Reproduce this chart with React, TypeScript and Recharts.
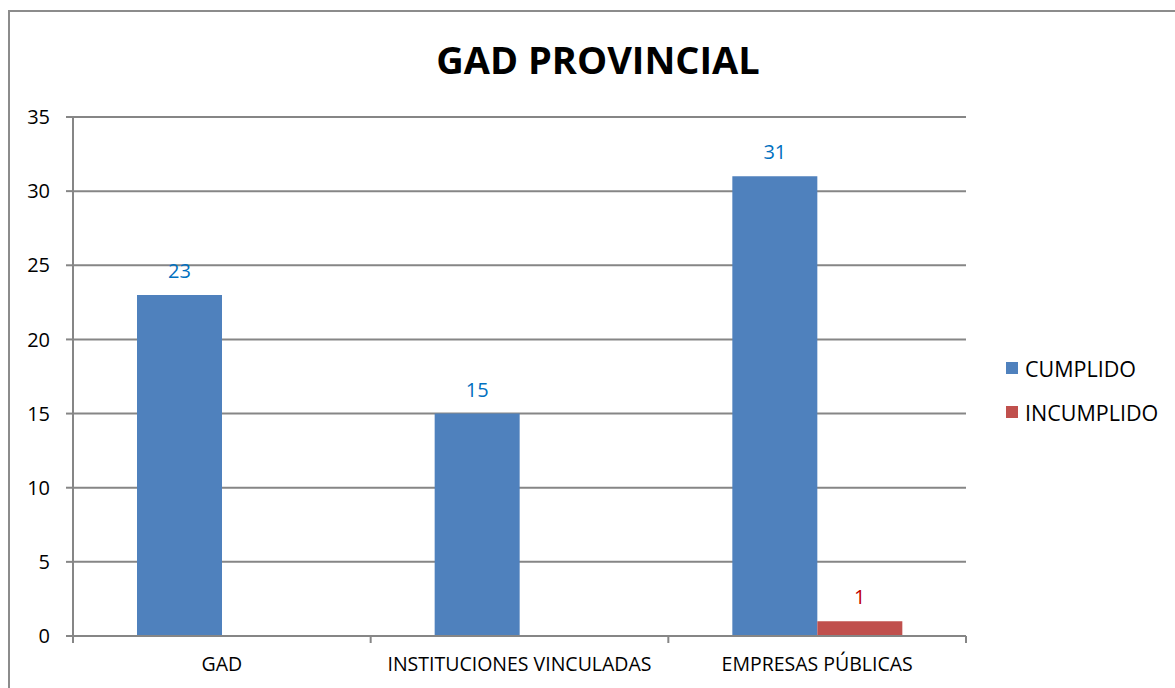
import React from 'react'
import { BarChart, Bar, XAxis, YAxis, CartesianGrid, Legend, LabelList } from 'recharts'

const categories = ['GAD', 'INSTITUCIONES VINCULADAS', 'EMPRESAS PÚBLICAS']
const cumplido = [23, 15, 31]
const incumplido = [0, 0, 1]
const yTicks = [0, 5, 10, 15, 20, 25, 30, 35]

const data = categories.map((name, i) => ({
  name,
  cumplido: cumplido[i],
  incumplido: incumplido[i],
}))

const FONT = '"Open Sans", "Noto Sans", sans-serif'
const W = 1175
const H = 688
const M = { top: 117, right: 209, left: 0, bottom: 12 }
const Y_W = 73
const BAND = (W - M.right - Y_W) / categories.length

const series = [
  { key: 'cumplido', label: 'CUMPLIDO', color: '#4F81BD', text: '#0070C0' },
  { key: 'incumplido', label: 'INCUMPLIDO', color: '#C0504D', text: '#C00000' },
]

// category label in the middle, tick marks on the band edges
function XTick(props: any) {
  const { x, y, payload, index } = props
  const left = x - BAND / 2
  return (
    <g>
      <line x1={left} x2={left} y1={y - 8} y2={y - 1} stroke="#868686" strokeWidth={2} />
      {index === categories.length - 1 && (
        <line x1={left + BAND} x2={left + BAND} y1={y - 8} y2={y - 1} stroke="#868686" strokeWidth={2} />
      )}
      <text x={x} y={y + 27} textAnchor="middle" fontSize={19.5} fontFamily={FONT} fill="#000">
        {payload.value}
      </text>
    </g>
  )
}

function LegendBox() {
  return (
    <div style={{ fontFamily: FONT, fontSize: 21.5, color: '#000' }}>
      {series.map((s) => (
        <div key={s.key} style={{ display: 'flex', alignItems: 'center', height: 44 }}>
          <span style={{ width: 12, height: 12, background: s.color, marginRight: 7 }} />
          {s.label}
        </div>
      ))}
    </div>
  )
}

export default function App() {
  return (
    <div style={{ position: 'absolute', left: 0, top: 0, width: W, height: H, overflow: 'hidden', background: '#fff' }}>
      <div
        style={{
          position: 'absolute', left: 8, top: 10, width: W + 20, height: H + 20,
          border: '2px solid #8c8c8c', boxSizing: 'border-box',
        }}
      />
      <div
        style={{
          position: 'absolute', left: 0, top: 33, width: 1196, textAlign: 'center',
          fontFamily: FONT, fontWeight: 700, fontSize: 38, color: '#000',
        }}
      >
        GAD PROVINCIAL
      </div>
      <div style={{ position: 'absolute', left: 0, top: 0 }}>
        <BarChart width={W} height={H} data={data} margin={M} barGap={0} barCategoryGap="21.5%">
          <CartesianGrid horizontal vertical={false} stroke="#868686" strokeWidth={2} />
          <XAxis
            dataKey="name"
            axisLine={{ stroke: '#868686', strokeWidth: 2 }}
            tickLine={false}
            tick={<XTick />}
            height={40}
            interval={0}
          />
          <YAxis
            domain={[0, 35]}
            ticks={yTicks}
            width={Y_W}
            axisLine={{ stroke: '#868686', strokeWidth: 2 }}
            tickLine={{ stroke: '#868686', strokeWidth: 2 }}
            tickSize={7}
            tickMargin={16}
            tick={{ fontSize: 20, fontFamily: FONT, fill: '#000' }}
          />
          <Legend
            layout="vertical"
            align="center"
            verticalAlign="middle"
            content={<LegendBox />}
            wrapperStyle={{ left: 1006, top: 346, width: 170 }}
          />
          {series.map((s) => (
            <Bar key={s.key} dataKey={s.key} fill={s.color} isAnimationActive={false}>
              <LabelList
                dataKey={s.key}
                position="top"
                offset={17}
                fill={s.text}
                fontSize={20}
                fontFamily={FONT}
                formatter={(v: any) => (v ? v : '')}
              />
            </Bar>
          ))}
        </BarChart>
      </div>
    </div>
  )
}
